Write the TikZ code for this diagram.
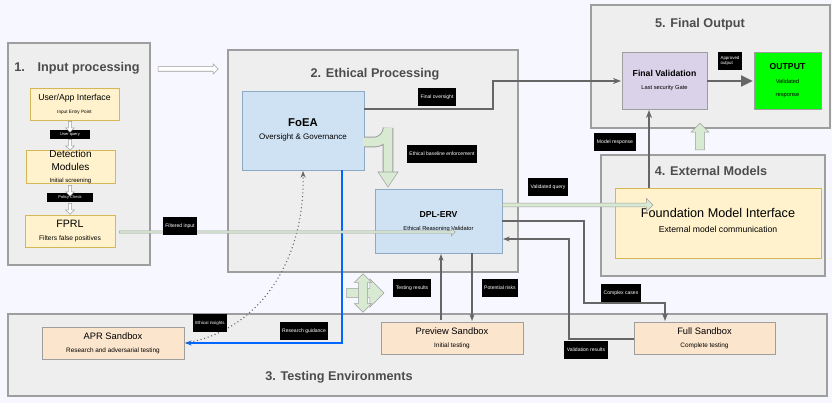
\documentclass[tikz,border=0pt]{standalone}
\usepackage{fontspec}
\setmainfont{Liberation Sans}
\usetikzlibrary{arrows.meta,shapes.arrows}
\definecolor{grp}{HTML}{EEEEEE}
\definecolor{grpb}{HTML}{9E9E9E}
\definecolor{yel}{HTML}{FFF2CC}
\definecolor{yelb}{HTML}{D6B656}
\definecolor{blu}{HTML}{CFE2F3}
\definecolor{blub}{HTML}{8DA9C4}
\definecolor{pur}{HTML}{D9D2E9}
\definecolor{peach}{HTML}{FCE5CD}
\definecolor{grn}{HTML}{D9EAD3}
\definecolor{ln}{HTML}{666666}
\begin{document}
\begin{tikzpicture}[x=0.75pt,y=-0.75pt,
 grpbox/.style={draw=grpb,fill=grp,line width=0.8pt},
 box/.style={draw=#1!80!black,line width=0.6pt},
 ttl/.style={font=\bfseries\fontsize{9.5}{11}\selectfont,text=black!70},
 lbl/.style={fill=black,text=white,font=\fontsize{3.8}{4.5}\selectfont,inner sep=2pt,minimum height=13pt},
 conn/.style={draw=ln,line width=1.1pt,-{Stealth[length=6pt]}},
 thin/.style={draw=ln,line width=0.8pt,-{Stealth[length=5pt]}},
 hol/.style={single arrow,draw=grpb,fill=white,minimum height=#1,single arrow head extend=2pt,inner sep=1.5pt},
 garr/.style={single arrow,draw=grpb,fill=grn,single arrow head extend=3pt}]
\fill[white!97!blue] (0,0) rectangle (832,403);
\useasboundingbox (0,0) rectangle (832,403);
% groups
\draw[grpbox] (8,43) rectangle (150,265);
\node[ttl] (t1) at (77,68) {1.\quad Input processing};
\draw[grpbox] (228,50) rectangle (518,272);
\node[ttl] (t2) at (375,74) {2. Ethical Processing};
\draw[grpbox] (591,5) rectangle (830,128);
\node[ttl] (t5) at (700,24) {5. Final Output};
\draw[grpbox] (601,155) rectangle (825,276);
\node[ttl] (t4) at (711,171) {4. External Models};
\draw[grpbox] (8,314) rectangle (827,396);
\node[ttl] (t3) at (339,377) {3. Testing Environments};
% input boxes
\fill[yel] (30,88) rectangle (119,120); \draw[yelb] (30,88) rectangle (119,120);
\node (ui) at (74.5,104) {\begin{tabular}{c}\fontsize{6.5}{7}\selectfont User/App Interface\\[-2pt]\fontsize{3.5}{4}\selectfont Input Entry Point\end{tabular}};
\fill[yel] (26,150) rectangle (115,183); \draw[yelb] (26,150) rectangle (115,183);
\node (dm) at (70.5,166.5) {\begin{tabular}{c}\fontsize{7.5}{8.5}\selectfont Detection\\[-2pt]\fontsize{7.5}{8.5}\selectfont Modules\\[-3pt]\fontsize{4.5}{5}\selectfont Initial screening\end{tabular}};
\fill[yel] (25,215) rectangle (115,247); \draw[yelb] (25,215) rectangle (115,247);
\node (fp) at (70,231) {\begin{tabular}{c}\fontsize{8}{9}\selectfont FPRL\\[-2pt]\fontsize{5}{6}\selectfont Filters false positives\end{tabular}};
\node[lbl,minimum width=30pt,minimum height=7pt,inner sep=0pt,font=\fontsize{3}{3.5}\selectfont] (uq) at (70,134.5) {User query};
\node[lbl,minimum width=34pt,minimum height=7pt,inner sep=0pt,font=\fontsize{3}{3.5}\selectfont] (pc) at (70,197.5) {Policy Check};
\foreach \y in {126,144,190,208} \node[hol=8pt,shape border rotate=270,minimum width=5pt,inner sep=1pt] at (70,\y) {};
\node[hol=45pt,minimum width=7pt] (big) at (187,69) {};
% ethical
\fill[blu] (242,91) rectangle (364,170); \draw[blub] (242,91) rectangle (364,170);
\node (foea) at (303,130) {\begin{tabular}{c}\bfseries\fontsize{8.5}{10}\selectfont FoEA\\[-2pt]\fontsize{6}{7}\selectfont Oversight \& Governance\end{tabular}};
\coordinate (foeaR) at (364,109);
\fill[blu] (375,189) rectangle (502,253); \draw[blub] (375,189) rectangle (502,253);
\node (dpl) at (438.5,221) {\begin{tabular}{c}\bfseries\fontsize{6.5}{7.5}\selectfont DPL-ERV\\[-2pt]\fontsize{4.3}{5}\selectfont Ethical Reasoning Validator\end{tabular}};
% final output
\fill[pur] (622,52) rectangle (707,109); \draw[grpb] (622,52) rectangle (707,109);
\node (fv) at (664.5,80) {\begin{tabular}{c}\bfseries\fontsize{6.5}{7.5}\selectfont Final Validation\\[-2pt]\fontsize{4.3}{5}\selectfont Last security Gate\end{tabular}};
\fill[green] (754,52) rectangle (821,109); \draw[grpb] (754,52) rectangle (821,109);
\node (out) at (787.5,80) {\begin{tabular}{c}\bfseries\fontsize{6.5}{7.5}\selectfont OUTPUT\\[-2pt]\fontsize{4.3}{5}\selectfont Validated\\[-2pt]\fontsize{4.3}{5}\selectfont response\end{tabular}};
% FMI
\fill[yel] (615,188) rectangle (821,258); \draw[yelb] (615,188) rectangle (821,258);
\node (fmi) at (718,222) {\begin{tabular}{c}\fontsize{9.5}{11}\selectfont Foundation Model Interface\\[-1pt]\fontsize{6.5}{7.5}\selectfont External model communication\end{tabular}};
% sandboxes
\fill[peach] (42,327) rectangle (184,359); \draw[grpb] (42,327) rectangle (184,359);
\node (apr) at (113,343) {\begin{tabular}{c}\fontsize{7}{8}\selectfont APR Sandbox\\[-2pt]\fontsize{4.8}{5.5}\selectfont Research and adversarial testing\end{tabular}};
\fill[peach] (381,322) rectangle (523,354); \draw[grpb] (381,322) rectangle (523,354);
\node (prev) at (452,338) {\begin{tabular}{c}\fontsize{7}{8}\selectfont Preview Sandbox\\[-2pt]\fontsize{4.8}{5.5}\selectfont Initial testing\end{tabular}};
\fill[peach] (634,322) rectangle (775,354); \draw[grpb] (634,322) rectangle (775,354);
\node (full) at (704.5,338) {\begin{tabular}{c}\fontsize{7}{8}\selectfont Full Sandbox\\[-2pt]\fontsize{4.8}{5.5}\selectfont Complete testing\end{tabular}};
% connectors
\draw[conn] (foeaR) -- (493,109) -- (493,81) -- (621,81);
\draw[draw=ln,line width=2pt,-{Triangle[length=9pt,width=8pt]}] (707,81) -- (753,81);
\draw[conn] (649,188) -- (649,110);
\draw[thin] (441,320) -- (441,254);
\draw[thin] (472,253) -- (472,321);
\draw[thin] (634,339) -- (569,339) -- (569,239) -- (503,239);
\draw[conn] (502,221) -- (584,221) -- (584,303) -- (665,303) -- (665,321);
\draw[draw=blue!60!cyan,line width=0.8pt,-{Stealth[length=5pt]}] (342,170) -- (342,343) -- (185,343);
\draw[dotted,draw=ln,line width=0.8pt,-{Stealth[length=5pt]}] (186,343) .. controls (260,330) and (305,260) .. (303,171);
% green arrows
\node[garr,minimum height=252pt,minimum width=6pt,single arrow head extend=2pt,inner sep=0.5pt,anchor=tail] (fi) at (119,232) {};
\node[garr,minimum height=113pt,minimum width=10pt,inner sep=1pt,anchor=tail] (vq) at (502,205) {};
\draw[draw=grpb,line width=8pt] (364,142) -- (374,142) arc (90:0:14) -- (388,172);
\draw[draw=grn,line width=6.5pt] (363,142) -- (374,142) arc (90:0:14) -- (388,173);
\fill[grn,draw=grpb] (378,172) -- (398,172) -- (388,187) -- cycle;
\node[garr,minimum height=20pt,minimum width=10pt,shape border rotate=90] at (700,139) {};
\node[single arrow,draw=grpb,fill=grn,minimum height=28pt,minimum width=8pt] at (363,293) {};
\node[double arrow,draw=grpb,fill=grn,minimum height=29pt,minimum width=10pt,double arrow head extend=3pt,shape border rotate=90] at (363,293) {};
% labels
\node[lbl] (l1) at (437,97) {Final oversight};
\node[lbl] (l2) at (442,154) {Ethical baseline enforcement};
\node[lbl] (l3) at (548,187) {Validated query};
\node[lbl,align=left,font=\fontsize{3.3}{4}\selectfont] (l4) at (730,61) {Approved\\output};
\node[lbl] (l5) at (615,142) {Model response};
\node[lbl] (l6) at (180,226) {Filtered input};
\node[lbl] (l7) at (412,288) {Testing results};
\node[lbl] (l8) at (500,288) {Potential risks};
\node[lbl] (l9) at (621,293) {Complex cases};
\node[lbl] (l10) at (586,350) {Validation results};
\node[lbl] (l11) at (304,331) {Research guidance};
\node[lbl,font=\fontsize{3.3}{4}\selectfont] (l12) at (210,323) {Ethical insights};
\end{tikzpicture}
\end{document}
